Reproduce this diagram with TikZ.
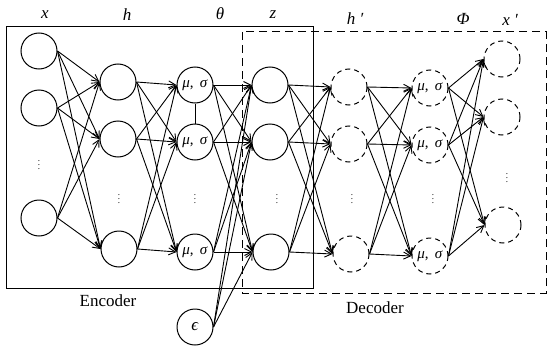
\documentclass[tikz,border=0pt]{standalone}
\usepackage{fontspec}
\setmainfont{Liberation Serif}
\usetikzlibrary{arrows.meta}
\begin{document}
\begin{tikzpicture}[x=1pt,y=-1pt,
  neuron/.style={circle,draw,line width=1pt,minimum size=36pt,inner sep=0pt,font=\fontsize{15}{15}\selectfont},
  dneuron/.style={neuron,dash pattern=on 5pt off 4pt},
  conn/.style={line width=0.9pt,-{Straight Barb[length=7pt,width=7pt]}},
  lbl/.style={font=\fontsize{17}{17}\selectfont\itshape},
  dotsn/.style={font=\small}]
\useasboundingbox (0,0) rectangle (548,345);
% boxes
\draw[line width=1pt] (6,27) rectangle (313,288);
\draw[line width=1pt,dash pattern=on 8pt off 5pt] (242,32) rectangle (546,293);
% nodes
\node[neuron] (x1) at (39,51) {};
\node[neuron] (x2) at (39,108) {};
\node[neuron] (x3) at (39,218) {};
\node[neuron] (h1) at (118,82) {};
\node[neuron] (h2) at (118,139) {};
\node[neuron] (h3) at (119,249) {};
\node[neuron] (t1) at (195,85) {\textit{μ}, \,\textit{σ}};
\node[neuron] (t2) at (195,142) {\textit{μ}, \,\textit{σ}};
\node[neuron] (t3) at (195,252) {\textit{μ}, \,\textit{σ}};
\node[neuron] (z1) at (270,85) {};
\node[neuron] (z2) at (270,142) {};
\node[neuron] (z3) at (271,252) {};
\node[dneuron] (g1) at (349,87) {};
\node[dneuron] (g2) at (349,144) {};
\node[dneuron] (g3) at (351,254) {};
\node[dneuron] (p1) at (430,88) {\textit{μ}, \,\textit{σ}};
\node[dneuron] (p2) at (430,145) {\textit{μ}, \,\textit{σ}};
\node[dneuron] (p3) at (430,256) {\textit{μ}, \,\textit{σ}};
\node[dneuron] (y1) at (502,59) {};
\node[dneuron] (y2) at (502,117) {};
\node[dneuron] (y3) at (503,225) {};
\node[neuron,font=\fontsize{17}{17}\selectfont] (eps) at (195,327) {\textit{ϵ}};
% dots
\node[dotsn] (d1) at (39,162) {$\vdots$};
\node[dotsn] (d2) at (119,196) {$\vdots$};
\node[dotsn] (d3) at (195,196) {$\vdots$};
\node[dotsn] (d4) at (277,196) {$\vdots$};
\node[dotsn] (d5) at (352,196) {$\vdots$};
\node[dotsn] (d6) at (433,196) {$\vdots$};
\node[dotsn] (d7) at (507,175) {$\vdots$};
% labels
\node[lbl] (lx) at (45,15) {x};
\node[lbl] (lh) at (127,15) {h};
\node[lbl] (lt) at (220,14) {θ};
\node[lbl] (lz) at (273,15) {z};
\node[lbl] (lh2) at (355,19) {h ′};
\node[lbl] (lp) at (463,19) {Φ};
\node[lbl] (lx2) at (510,20) {x ′};
\node[font=\fontsize{17}{17}\selectfont] (enc) at (108,301) {Encoder};
\node[font=\fontsize{17}{17}\selectfont] (dec) at (375,308) {Decoder};
% connections
\foreach \a in {x1,x2,x3}{\foreach \b in {h1,h2,h3}{\draw[conn] (\a.east) -- (\b.west);}}
\foreach \a in {h1,h2,h3}{\foreach \b in {t1,t2,t3}{\draw[conn] (\a.east) -- (\b.west);}}
\foreach \a in {t1,t2,t3}{\foreach \b in {z1,z2,z3}{\draw[conn] (\a.east) -- (\b.west);}}
\foreach \a in {z1,z2,z3}{\foreach \b in {g1,g2,g3}{\draw[conn] (\a.east) -- (\b.west);}}
\foreach \a in {g1,g2,g3}{\foreach \b in {p1,p2,p3}{\draw[conn] (\a.east) -- (\b.west);}}
\foreach \a in {p1,p2,p3}{\foreach \b in {y1,y2,y3}{\draw[conn] (\a.east) -- (\b.west);}}
\foreach \b in {z1,z2,z3}{\draw[conn] (eps.east) -- (\b.west);}
\draw[line width=0.9pt] (t1.south) -- (t2.north);
\end{tikzpicture}
\end{document}
